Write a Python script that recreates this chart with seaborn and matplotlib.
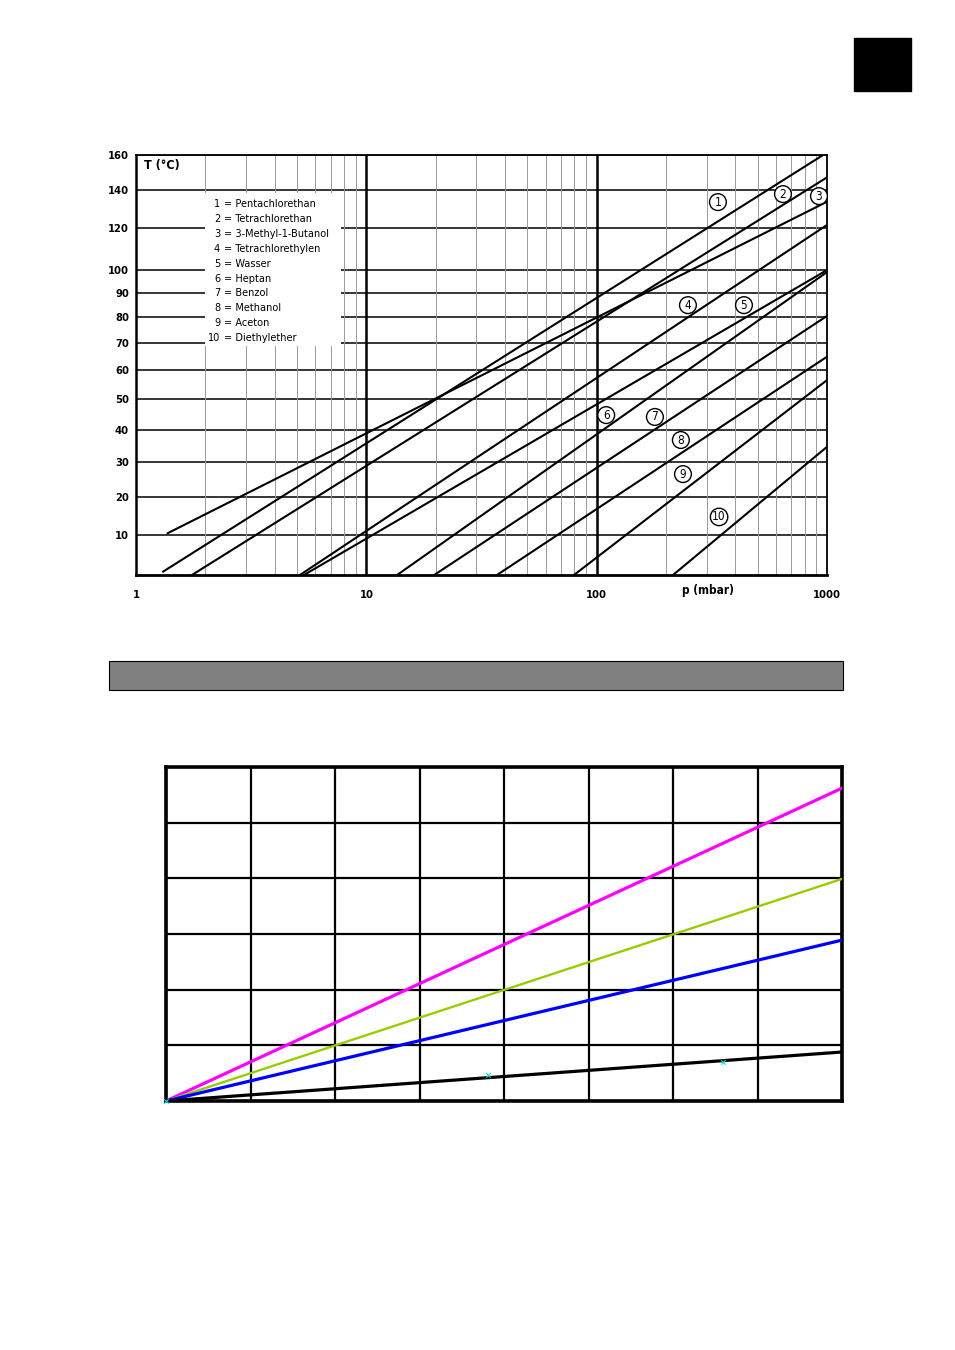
import numpy as np
import pandas as pd
import matplotlib
matplotlib.use('Agg')
import matplotlib.pyplot as plt
import seaborn as sns
from matplotlib.patches import Rectangle
from matplotlib.ticker import FixedLocator, NullFormatter

# --- upper chart: vapour pressure lines (p in mbar, T in degC) ---
substances = ['Pentachlorethan', 'Tetrachlorethan', '3-Methyl-1-Butanol',
              'Tetrachlorethylen', 'Wasser', 'Heptan', 'Benzol', 'Methanol',
              'Aceton', 'Diethylether']
p_start = [1.31, 1.75, 1.37, 5.15, 5.36, 13.6, 19.7, 36.9, 79.7, 214.5]
t_start = [0.8, 0.0, 10.4, 0.0, 0.0, 0.0, 0.0, 0.0, 0.0, 0.0]
p_end = [1000, 1000, 1000, 1000, 1000, 1000, 1000, 1000, 1000, 1000]
t_end = [161.5, 146.9, 133.5, 121.5, 100.1, 99.2, 80.6, 64.9, 56.5, 34.7]

# circled number labels (p, T)
label_p = [336, 644, 923, 249, 436, 110, 179, 232, 237, 340]
label_t = [133.3, 137.6, 136.5, 85.0, 85.0, 44.7, 44.1, 36.8, 26.6, 14.7]

t_ticks = [10, 20, 30, 40, 50, 60, 70, 80, 90, 100, 120, 140, 160]
p_ticks = [1, 10, 100, 1000]
p_ticklabels = ['1', '10', '100', '1000']

# --- lower chart: four straight lines from the origin ---
series_names = ['magenta', 'gruen', 'blau', 'schwarz']
series_x = [0, 8]
series_end = [5.62, 3.99, 2.89, 0.88]
series_colors = ['#ff00ff', '#99cc00', '#0000ff', '#000000']
marker_x = [0.0, 3.81, 6.59]
marker_y = [0.0, 0.47, 0.70]

sns.set_style('white')
plt.rcParams['font.family'] = ['Liberation Sans Narrow', 'DejaVu Sans']
plt.rcParams['font.stretch'] = 'condensed'
plt.rcParams['text.color'] = 'black'
plt.rcParams['xtick.color'] = 'black'
plt.rcParams['ytick.color'] = 'black'

fig = plt.figure(figsize=(9.55, 13.5), dpi=100)
W, H = 955.0, 1350.0


def fig_rect(x0, y0, x1, y1):
    return [x0 / W, 1 - y1 / H, (x1 - x0) / W, (y1 - y0) / H]


# black square in corner
fig.patches.append(Rectangle((854 / W, 1 - 91 / H), 57 / W, 53 / H,
                             transform=fig.transFigure, facecolor='black',
                             edgecolor='black'))
# grey bar between charts
fig.patches.append(Rectangle((109 / W, 1 - 690 / H), 734 / W, 29 / H,
                             transform=fig.transFigure, facecolor='#808080',
                             edgecolor='black', linewidth=0.8))

# ---------------- upper chart ----------------
ax = fig.add_axes(fig_rect(136, 155, 827, 575))


def fwd(t):
    return -1000.0 / (np.asarray(t, dtype=float) + 273.15)


def inv(f):
    return -1000.0 / np.asarray(f, dtype=float) - 273.15


ax.set_xscale('log')
ax.set_yscale('function', functions=(fwd, inv))

rows = []
for i, name in enumerate(substances):
    rows.append({'name': name, 'p': p_start[i], 'T': t_start[i]})
    rows.append({'name': name, 'p': p_end[i], 'T': t_end[i]})
df_top = pd.DataFrame(rows)
sns.lineplot(data=df_top, x='p', y='T', hue='name',
             palette={n: 'black' for n in substances}, estimator=None,
             linewidth=1.5, legend=False, ax=ax, zorder=4)

ax.set_xlim(1, 1000)
ax.set_ylim(0, 160)
ax.set_xlabel('')
ax.set_ylabel('')

# grid
for t in t_ticks:
    ax.axhline(t, color='black', linewidth=1.1, zorder=1)
minor_p = [m * d for d in (1, 10, 100) for m in range(2, 10)]
for p in minor_p:
    ax.axvline(p, color='#9a9a9a', linewidth=0.7, zorder=1)
for p in (10, 100):
    ax.axvline(p, color='black', linewidth=1.8, zorder=1)

ax.yaxis.set_major_locator(FixedLocator(t_ticks))
ax.set_yticklabels([str(t) for t in t_ticks], fontsize=8, fontweight='bold')
ax.yaxis.set_minor_locator(FixedLocator([]))
ax.xaxis.set_major_locator(FixedLocator(p_ticks))
ax.set_xticklabels(p_ticklabels, fontsize=8, fontweight='bold')
ax.xaxis.set_minor_formatter(NullFormatter())
ax.tick_params(axis='y', which='major', direction='out', length=4, width=1.0,
               pad=1, colors='black')
ax.tick_params(axis='x', which='major', direction='out', length=5, width=1.0,
               pad=6, colors='black')
ax.tick_params(axis='x', which='minor', length=0)
for s in ax.spines.values():
    s.set_color('black')
    s.set_linewidth(1.3)
ax.spines['left'].set_linewidth(1.8)
ax.spines['bottom'].set_linewidth(2.0)

ax.text(0.012, 0.976, 'T (°C)', transform=ax.transAxes, fontsize=9,
        fontweight='bold', ha='left', va='center')
ax.text(304, -0.037, 'p (mbar)', transform=ax.get_xaxis_transform(),
        fontsize=8.5, fontweight='bold', ha='center', va='center')

# legend box
ax.add_patch(Rectangle(((205 - 136) / 691, 1 - (346 - 155) / 420),
                       (341 - 205) / 691, (346 - 193) / 420,
                       transform=ax.transAxes, facecolor='white',
                       edgecolor='none', zorder=2))
for i, name in enumerate(substances):
    yy = 1 - (204 + 14.9 * i - 155) / 420
    ax.text((220 - 136) / 691, yy, str(i + 1), transform=ax.transAxes,
            fontsize=7.8, ha='right', va='center', zorder=5)
    ax.text((224 - 136) / 691, yy, '= ' + name, transform=ax.transAxes,
            fontsize=7.8, ha='left', va='center', zorder=5)

for i in range(len(substances)):
    ax.text(label_p[i], label_t[i], str(i + 1), fontsize=8.5, ha='center',
            va='center', zorder=6,
            bbox=dict(boxstyle='circle,pad=0.16', facecolor='white',
                      edgecolor='black', linewidth=1.0))

# ---------------- lower chart ----------------
bx = fig.add_axes(fig_rect(166, 767, 842, 1101))
rows = []
for name, end in zip(series_names, series_end):
    rows.append({'series': name, 'x': series_x[0], 'y': 0.0})
    rows.append({'series': name, 'x': series_x[1], 'y': end})
df_bot = pd.DataFrame(rows)
widths = {'magenta': 2.3, 'gruen': 1.7, 'blau': 2.3, 'schwarz': 2.3}
for name, col in zip(series_names, series_colors):
    sns.lineplot(data=df_bot[df_bot['series'] == name], x='x', y='y',
                 color=col, linewidth=widths[name], estimator=None,
                 legend=False, ax=bx, zorder=4)
bx.scatter(marker_x, marker_y, marker='x', color='#00e0e0', s=10,
           linewidths=0.8, zorder=5, clip_on=False)

bx.set_xlim(0, 8)
bx.set_ylim(0, 6)
bx.set_xticks(range(9))
bx.set_yticks(range(7))
bx.set_xticklabels([])
bx.set_yticklabels([])
bx.set_xlabel('')
bx.set_ylabel('')
bx.grid(True, color='black', linewidth=1.6)
bx.set_axisbelow(True)
bx.tick_params(axis='both', direction='out', length=4, width=1.0,
               colors='black')
for s in bx.spines.values():
    s.set_color('black')
    s.set_linewidth(2.6)

fig.savefig('out.png', dpi=100)
